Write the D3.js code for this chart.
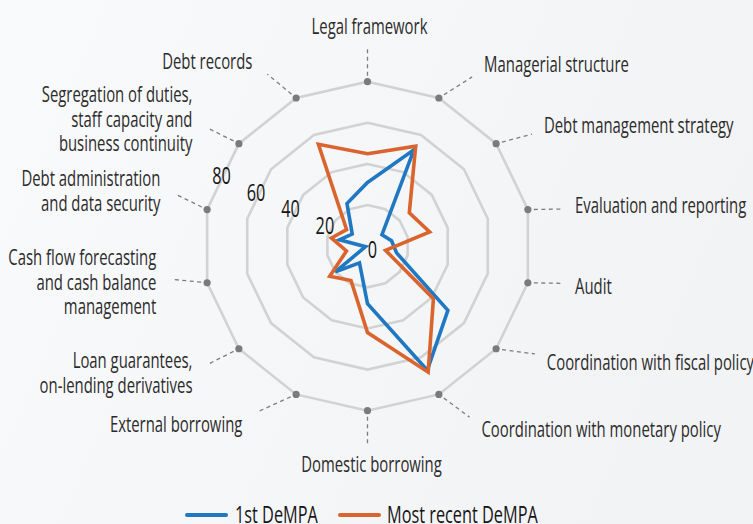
<!DOCTYPE html>
<html>
<head>
<meta charset="utf-8">
<script src="https://cdn.jsdelivr.net/npm/d3@7"></script>
<style>
    body { margin: 0; background: #f6f7f9; }
    svg text { font-family: "Open Sans", "Noto Sans", sans-serif; }
</style>
</head>
<body>
<svg id="chart" width="753" height="524"></svg>
<script>
// Axes, clockwise from the top
var categories = [
    "Legal framework",
    "Managerial structure",
    "Debt management strategy",
    "Evaluation and reporting",
    "Audit",
    "Coordination with fiscal policy",
    "Coordination with monetary policy",
    "Domestic borrowing",
    "External borrowing",
    "Loan guarantees,\non-lending derivatives",
    "Cash flow forecasting\nand cash balance\nmanagement",
    "Debt administration\nand data security",
    "Segregation of duties,\nstaff capacity and\nbusiness continuity",
    "Debt records"
];
var firstDempa  = [31, 52, 9, 12, 14.5, 50, 67, 28, 9, 20, 1, 14, 9.5, 23];
var recentDempa = [45, 54, 26, 31, 9, 41, 68, 42, 18.5, 23.5, 10.5, 18, 13, 55];
var ringTicks = [20, 40, 60, 80];
var seriesNames = ["1st DeMPA", "Most recent DeMPA"];
var seriesColors = ["#1f78c1", "#d9642e"];

// label leaders are nudged a little towards the horizontal (degrees)
var leaderShift = [0, 6, 4.3, 2.1, -2.1, -5.8, -5.1, 0, 7.9, 2.1, 3.3, 2.3, -2.1, -4.5];

var cx = 367.5, cy = 246.2;
var outerR = 164.5;
var fontSize = 21;
var svg = d3.select("#chart");

// faint background wash
var defs = svg.append("defs");
var grad = defs.append("linearGradient").attr("id", "bg")
    .attr("x1", "0").attr("y1", "0").attr("x2", "1").attr("y2", "0.3");
grad.append("stop").attr("offset", "0").attr("stop-color", "#f9fafb");
grad.append("stop").attr("offset", "1").attr("stop-color", "#f2f3f5");
svg.append("rect").attr("width", 753).attr("height", 524).attr("fill", "url(#bg)");

// The original uses a condensed face; squeeze a normal one to match.
var probe = svg.append("text").attr("font-size", fontSize).text("Legal framework");
var squeeze = 116 / probe.node().getComputedTextLength();
probe.remove();

var r = d3.scaleLinear().domain([0, 80]).range([0, outerR]);
var angle = d3.scaleLinear().domain([0, categories.length]).range([0, 2 * Math.PI]);

function polar(a, rad) {
    return [Math.sin(a) * rad, -Math.cos(a) * rad];
}

var g = svg.append("g").attr("transform", "translate(" + cx + "," + cy + ")");

// Grid rings
var ringLine = d3.lineRadial()
    .angle(function (d, i) { return angle(i); })
    .radius(function (d) { return r(d); })
    .curve(d3.curveLinearClosed);

g.selectAll(".ring")
    .data(ringTicks)
    .enter().append("path")
    .attr("class", "ring")
    .attr("d", function (t) {
        return ringLine(categories.map(function () { return t; }));
    })
    .attr("fill", "none")
    .attr("stroke", "#d2d2d2")
    .attr("stroke-width", 2.6);

// Leaders and category labels
var axes = g.selectAll(".axis")
    .data(categories)
    .enter().append("g")
    .attr("class", "axis");

axes.each(function (name, i) {
    var a = angle(i);
    var dot = polar(a, outerR);
    var endA = a + leaderShift[i] * Math.PI / 180;
    var end = polar(endA, 199);
    var dx = end[0] - dot[0], dy = end[1] - dot[1];
    var len = Math.sqrt(dx * dx + dy * dy);
    var start = [dot[0] + dx / len * 6, dot[1] + dy / len * 6];

    var sel = d3.select(this);
    sel.append("line")
        .attr("x1", start[0]).attr("y1", start[1])
        .attr("x2", end[0]).attr("y2", end[1])
        .attr("stroke", "#7d7d7d")
        .attr("stroke-width", 1.3)
        .attr("stroke-dasharray", "4,3.5");

    sel.append("circle")
        .attr("cx", dot[0]).attr("cy", dot[1])
        .attr("r", 3.6)
        .attr("fill", "#7b7b7b");

    var lines = name.split("\n");
    var lineH = 24.5;
    var x, anchor, centerY;
    if (i === 0) {
        x = end[0] + 2; anchor = "middle"; centerY = end[1] - 21;
    } else if (i === 7) {
        x = end[0] + 4; anchor = "middle"; centerY = end[1] + 19;
    } else if (i < 7) {
        x = end[0] + 12; anchor = "start"; centerY = end[1] - 14 * Math.cos(a);
    } else {
        x = end[0] - 15; anchor = "end"; centerY = end[1] - 14 * Math.cos(a);
    }
    var text = sel.append("text")
        .attr("transform", "translate(" + x + "," + centerY + ") scale(" + squeeze + ",1)")
        .attr("text-anchor", anchor)
        .attr("font-size", fontSize)
        .attr("fill", "#2b2b2b");
    lines.forEach(function (ln, k) {
        text.append("tspan")
            .attr("x", 0)
            .attr("y", -(lines.length - 1) / 2 * lineH + k * lineH + 7.5)
            .text(ln);
    });
});

// Series
var seriesLine = d3.lineRadial()
    .angle(function (d, i) { return angle(i); })
    .radius(function (d) { return r(d); })
    .curve(d3.curveLinearClosed);

g.selectAll(".series")
    .data([firstDempa, recentDempa])
    .enter().append("path")
    .attr("class", "series")
    .attr("d", seriesLine)
    .attr("fill", "none")
    .attr("stroke", function (d, i) { return seriesColors[i]; })
    .attr("stroke-width", 3.6)
    .attr("stroke-linejoin", "miter");

// Ring value labels, along a line between two axes
var labelA = angle(11.5);
function tickPos(t) {
    return t === 0 ? [5, 4] : polar(labelA, r(t) * 0.93 + 9);
}
g.selectAll(".tick-label")
    .data([0].concat(ringTicks))
    .enter().append("text")
    .attr("class", "tick-label")
    .attr("transform", function (t) {
        var p = tickPos(t);
        return "translate(" + p[0] + "," + (p[1] + 8) + ") scale(" + squeeze + ",1)";
    })
    .attr("text-anchor", "middle")
    .attr("font-size", 23)
    .attr("fill", "#151515")
    .text(function (t) { return t; });

// Legend
var legendX = [187, 340];
var legendTextX = [235, 387];
var legend = svg.selectAll(".legend")
    .data(seriesNames)
    .enter().append("g")
    .attr("class", "legend");

legend.append("line")
    .attr("x1", function (d, i) { return legendX[i]; })
    .attr("x2", function (d, i) { return legendX[i] + 39; })
    .attr("y1", 515).attr("y2", 515)
    .attr("stroke", function (d, i) { return seriesColors[i]; })
    .attr("stroke-width", 4)
    .attr("stroke-linecap", "round");

legend.append("text")
    .attr("transform", function (d, i) {
        return "translate(" + legendTextX[i] + ",523) scale(" + squeeze + ",1)";
    })
    .attr("font-size", 23)
    .attr("fill", "#151515")
    .text(function (d) { return d; });
</script>
</body>
</html>
